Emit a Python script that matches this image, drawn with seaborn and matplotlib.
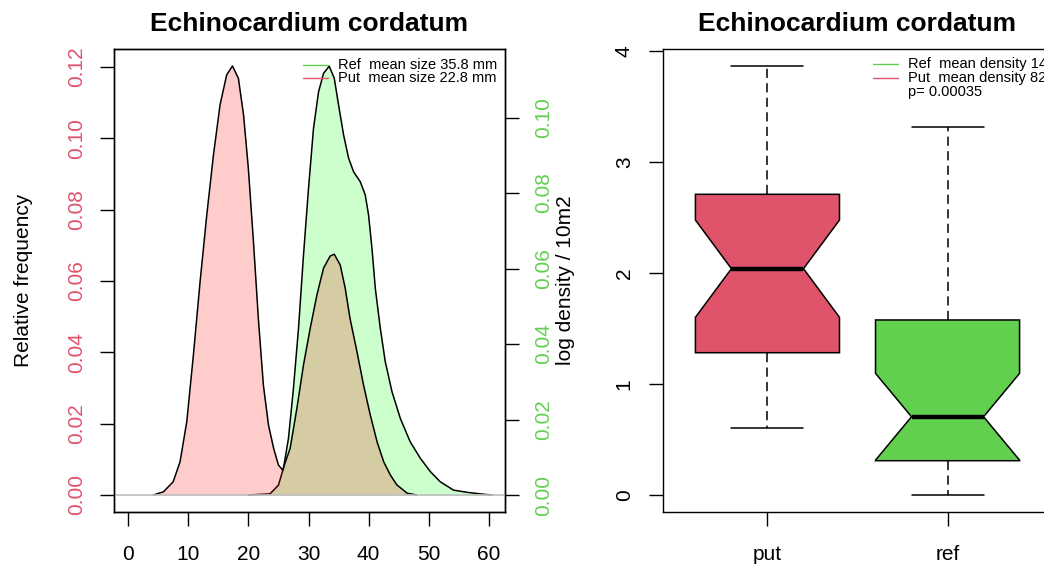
import matplotlib
matplotlib.use("Agg")
import matplotlib.pyplot as plt
import seaborn as sns
import numpy as np
import pandas as pd

# ---------------- data ----------------
put_size_mm = [4.2, 5.9, 7.5, 8.65, 9.77, 10.87, 11.98, 13.09, 14.2, 15.3, 16.4, 17.36,
               18.35, 19.2, 20.0, 20.85, 21.7, 22.5, 23.35, 24.2, 25.0, 25.7, 26.95,
               28.07, 29.17, 30.28, 31.4, 32.5, 33.6, 34.28, 35.27, 36.1, 36.9, 38.05,
               39.15, 40.27, 41.4, 42.5, 43.6, 44.7, 46.4, 48.0]
put_freq = [0.0, 0.0009, 0.0037, 0.0093, 0.0206, 0.0393, 0.0598, 0.0785, 0.0953, 0.1094,
            0.1178, 0.1203, 0.1168, 0.1066, 0.0916, 0.0710, 0.0486, 0.0308, 0.0196,
            0.0131, 0.0084, 0.0070, 0.0131, 0.0243, 0.0365, 0.0467, 0.0561, 0.0636,
            0.0670, 0.0675, 0.0645, 0.0580, 0.0495, 0.0402, 0.0308, 0.0224, 0.0149,
            0.0093, 0.0056, 0.0028, 0.0005, 0.0]

ref_size_mm = [20.0, 23.6, 25.0, 25.84, 26.67, 27.5, 28.34, 29.17, 30.0, 30.83, 31.67,
               32.5, 33.44, 34.28, 35.0, 35.83, 36.67, 37.5, 38.6, 39.43, 39.98, 40.55,
               41.1, 41.93, 42.76, 43.87, 45.26, 46.9, 48.6, 50.25, 51.9, 54.1, 56.4,
               59.1, 60.5]
ref_freq = [0.0, 0.0003, 0.0026, 0.0071, 0.0150, 0.0283, 0.0442, 0.0636, 0.0812, 0.0971,
            0.1068, 0.1117, 0.1136, 0.1104, 0.1033, 0.0954, 0.0892, 0.0856, 0.0830,
            0.0795, 0.0742, 0.0653, 0.0548, 0.0442, 0.0353, 0.0274, 0.0203, 0.0141,
            0.0097, 0.0062, 0.0035, 0.0013, 0.0007, 0.0002, 0.0]

size_xticks = [0, 10, 20, 30, 40, 50, 60]
put_yticks = [0.00, 0.02, 0.04, 0.06, 0.08, 0.10, 0.12]
ref_yticks = [0.00, 0.02, 0.04, 0.06, 0.08, 0.10]
size_legend = ["Ref  mean size 35.8 mm", "Put  mean size 22.8 mm"]

box_groups = ["put", "ref"]
box_whislo = [0.606, 0.0]
box_q1 = [1.282, 0.309]
box_cilo = [1.601, 0.314]
box_med = [2.039, 0.705]
box_cihi = [2.477, 1.096]
box_q3 = [2.709, 1.577]
box_whishi = [3.867, 3.318]
dens_yticks = [0, 1, 2, 3, 4]
dens_legend = ["Ref  mean density 14", "Put  mean density 82", "p= 0.00035"]

title = "Echinocardium cordatum"

# ---------------- style ----------------
sns.set_theme(style="ticks")
plt.rcParams["font.family"] = ["Liberation Sans", "DejaVu Sans"]
plt.rcParams["axes.edgecolor"] = "black"
plt.rcParams["axes.linewidth"] = 1.0
plt.rcParams["text.color"] = "black"
plt.rcParams["axes.labelcolor"] = "black"
plt.rcParams["axes.titlecolor"] = "black"
plt.rcParams["xtick.color"] = "black"
plt.rcParams["ytick.color"] = "black"

RED = "#DF536B"
GREEN = "#61D04F"
FS = 15
TICKLEN = 10

W, H = 1044, 564
fig = plt.figure(figsize=(W / 100, H / 100), dpi=100)
fig.patch.set_facecolor("white")


def rect(x0, y0, x1, y1):
    return [x0 / W, 1 - y1 / H, (x1 - x0) / W, (y1 - y0) / H]


# ---------------- left panel: size distributions ----------------
ax = fig.add_axes(rect(114, 49, 505, 512))
ax2 = ax.twinx()
ax.set_zorder(ax2.get_zorder() + 1)
ax.patch.set_visible(False)

ax2.fill_between(ref_size_mm, ref_freq, color=(0, 1, 0, 0.2), lw=0)
sns.lineplot(x=ref_size_mm, y=ref_freq, ax=ax2, color="black", lw=1.1, sort=False)
ax.fill_between(put_size_mm, put_freq, color=(1, 0, 0, 0.2), lw=0)
sns.lineplot(x=put_size_mm, y=put_freq, ax=ax, color="black", lw=1.1, sort=False)
ax.axhline(0, color="#BEBEBE", lw=1.2)

ax.set_xlim(-2.33, 62.66)
ax.set_ylim(-0.00477, 0.12505)
ax2.set_ylim(-0.0045, 0.11815)

ax.set_xticks(size_xticks)
ax.set_xticklabels([str(v) for v in size_xticks])
ax.set_yticks(put_yticks)
ax.set_yticklabels([f"{v:.2f}" for v in put_yticks], rotation=90, va="center")
ax2.set_yticks(ref_yticks)
ax2.set_yticklabels([f"{v:.2f}" for v in ref_yticks], rotation=90, va="center")

ax.tick_params(axis="both", length=TICKLEN, width=1, labelsize=FS, color="black", direction="out")
ax.tick_params(axis="x", pad=14, labelcolor="black")
ax.tick_params(axis="y", labelcolor=RED, pad=10)
ax2.tick_params(axis="y", length=TICKLEN, width=1, labelsize=FS, color="black",
                labelcolor=GREEN, pad=11, direction="out")

ax.set_xlabel("")
ax.set_ylabel("Relative frequency", fontsize=FS, color="black")
ax.yaxis.set_label_coords(-0.207, 0.5)
ax2.set_ylabel("log density / 10m2", fontsize=FS, color="black")
ax2.yaxis.set_label_coords(1.13, 0.5)
ax.set_title(title, fontsize=19, fontweight="bold", pad=13, color="black")

for sp in list(ax.spines.values()) + list(ax2.spines.values()):
    sp.set_color("black")
    sp.set_linewidth(1.0)

# legend (drawn as lines + text, R style, no box)
leg_rows = [0.9654, 0.9374]
for yv, col, lab in zip(leg_rows, [GREEN, RED], size_legend):
    ax.plot([0.4834, 0.5473], [yv, yv], transform=ax.transAxes, color=col, lw=1.0)
    ax.text(0.5729, yv, lab, transform=ax.transAxes, fontsize=10.5, va="center", ha="left",
            color="black")

# ---------------- right panel: notched boxplot ----------------
axb = fig.add_axes(rect(663, 49, 1052, 512))
stats = []
for i, g in enumerate(box_groups):
    stats.append(dict(label=g, whislo=box_whislo[i], q1=box_q1[i], cilo=box_cilo[i],
                      med=box_med[i], cihi=box_cihi[i], q3=box_q3[i],
                      whishi=box_whishi[i], fliers=[]))
bp = axb.bxp(stats, positions=[1, 2], widths=0.8, shownotches=True, patch_artist=True,
             showfliers=False,
             boxprops=dict(edgecolor="black", linewidth=1.1),
             whiskerprops=dict(color="black", linewidth=1.1, linestyle=(0, (6, 3.5))),
             capprops=dict(color="black", linewidth=1.1),
             medianprops=dict(color="black", linewidth=3.2, solid_capstyle="butt"))
for patch, col in zip(bp["boxes"], [RED, GREEN]):
    patch.set_facecolor(col)

axb.set_xlim(0.42, 2.58)
axb.set_ylim(-0.153, 4.018)
axb.set_xticks([1, 2])
axb.set_xticklabels(box_groups)
axb.set_yticks(dens_yticks)
axb.set_yticklabels([str(v) for v in dens_yticks], rotation=90, va="center")
axb.tick_params(axis="both", length=TICKLEN, width=1, labelsize=FS, color="black",
                labelcolor="black", direction="out")
axb.tick_params(axis="x", pad=14)
axb.tick_params(axis="y", pad=11)
axb.set_title(title, fontsize=19, fontweight="bold", pad=13, color="black")
for sp in axb.spines.values():
    sp.set_color("black")
    sp.set_linewidth(1.0)

leg_rows_b = [0.9676, 0.9374, 0.9071]
for yv, col, lab in zip(leg_rows_b[:2], [GREEN, RED], dens_legend[:2]):
    axb.plot([0.5398, 0.6041], [yv, yv], transform=axb.transAxes, color=col, lw=1.0,
             clip_on=False)
    axb.text(0.6298, yv, lab, transform=axb.transAxes, fontsize=10.5, va="center",
             ha="left", color="black")
axb.text(0.6298, leg_rows_b[2], dens_legend[2], transform=axb.transAxes, fontsize=10.5,
         va="center", ha="left", color="black")

fig.savefig("out.png", dpi=100)
